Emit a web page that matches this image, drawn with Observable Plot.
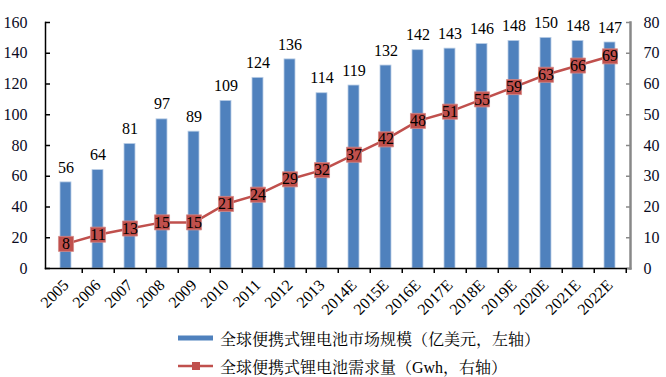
<!DOCTYPE html>
<html><head><meta charset="utf-8">
<script src="https://cdn.jsdelivr.net/npm/d3@7"></script>
<script src="https://cdn.jsdelivr.net/npm/@observablehq/plot@0.6"></script>
<style>
body{margin:0;background:#fff;font-family:'Liberation Serif',serif;width:666px;height:377px;overflow:hidden}
#chart svg, #chart svg text, #chart svg g{font-family:'Liberation Serif',serif !important}
#legend{margin-top:6px;font-family:'Liberation Serif','Noto Serif CJK SC','Noto Sans CJK SC',serif;font-size:16px;color:#000}
.row{height:28px;display:flex;align-items:center;padding-left:178px}
.row svg{margin-right:7px}
</style></head><body>
<div id="chart"></div>
<div id="legend"></div>
<script>
const years = ["2005","2006","2007","2008","2009","2010","2011","2012","2013","2014E","2015E","2016E","2017E","2018E","2019E","2020E","2021E","2022E"];
const marketSize = [56,64,81,97,89,109,124,136,114,119,132,142,143,146,148,150,148,147];
const demand = [8,11,13,15,15,21,24,29,32,37,42,48,51,55,59,63,66,69];
const leftTicks = [0,20,40,60,80,100,120,140,160];
const rightTicks = [0,10,20,30,40,50,60,70,80];
const seriesNames = ["全球便携式锂电池市场规模（亿美元，左轴）","全球便携式锂电池需求量（Gwh，右轴）"];

const ratio = 160 / 80;
const data = years.map((y, i) => ({year: y, size: marketSize[i], demand: demand[i], demandScaled: demand[i] * ratio}));

const blue = "#4F81BD", red = "#C0504D";
const serif = "Liberation Serif, serif";
const step = (666 - 45 - 36) / years.length;

const chart = Plot.plot({
  width: 666, height: 318,
  marginLeft: 45, marginRight: 36, marginTop: 22, marginBottom: 50,
  style: {fontFamily: serif, background: "#fff"},
  x: {domain: years, paddingInner: 0.66, paddingOuter: 0.33, label: null},
  y: {domain: [0, 160], label: null},
  marks: [
    Plot.barY(data, {x: "year", y: "size", fill: blue, stroke: "#b9cde5", strokeWidth: 0.8}),
    Plot.text(data, {x: "year", y: "size", text: d => String(d.size), dy: -15, fontSize: 16, fontFamily: serif, fill: "#000"}),
    Plot.line(data, {x: "year", y: "demandScaled", stroke: red, strokeWidth: 2.5}),
    Plot.dot(data, {x: "year", y: "demandScaled", symbol: "square", r: 8.5, fill: red, stroke: "#d48a88", strokeWidth: 0.8}),
    Plot.text(data, {x: "year", y: "demandScaled", text: d => String(d.demand), fontSize: 16, fontFamily: serif, fill: "#000"}),
    Plot.frame({anchor: "left", stroke: "#000", strokeWidth: 1.5}),
    Plot.frame({anchor: "bottom", stroke: "#000", strokeWidth: 1.5}),
    Plot.frame({anchor: "right", stroke: "#888", strokeWidth: 2.5}),
    Plot.axisY({ticks: leftTicks, tickSize: 0, tickPadding: 18, fontSize: 16, fontFamily: serif, color: "#0a0a1e", label: null}),
    Plot.axisY({ticks: leftTicks, tickSize: -5, fill: "none", stroke: "#000", strokeWidth: 1.5, label: null}),
    Plot.axisY({anchor: "right", ticks: rightTicks.map(d => d * ratio), tickFormat: d => String(d / ratio), tickSize: 0, tickPadding: 13, fontSize: 16, fontFamily: serif, color: "#0a0a1e", label: null}),
    Plot.axisY({anchor: "right", ticks: rightTicks.map(d => d * ratio), tickSize: -5, fill: "none", stroke: "#888", strokeWidth: 1.5, label: null}),
    Plot.axisX({tickSize: 0, tickRotate: -45, tickPadding: 14, fontSize: 16, fontFamily: serif, color: "#000", label: null}),
    Plot.axisX({tickSize: 5, fill: "none", dx: step / 2, stroke: "#000", strokeWidth: 1.5, label: null})
  ]
});
document.getElementById("chart").appendChild(chart);

const legend = document.getElementById("legend");
legend.innerHTML = `
<div class="row"><svg width="35" height="10"><rect x="0" y="2.5" width="35" height="5" fill="${blue}"/></svg><span>${seriesNames[0]}</span></div>
<div class="row"><svg width="35" height="10"><line x1="0" x2="35" y1="5" y2="5" stroke="${red}" stroke-width="2.5"/><rect x="14" y="1" width="8" height="8" fill="${red}"/></svg><span>${seriesNames[1]}</span></div>`;
</script>
</body></html>
